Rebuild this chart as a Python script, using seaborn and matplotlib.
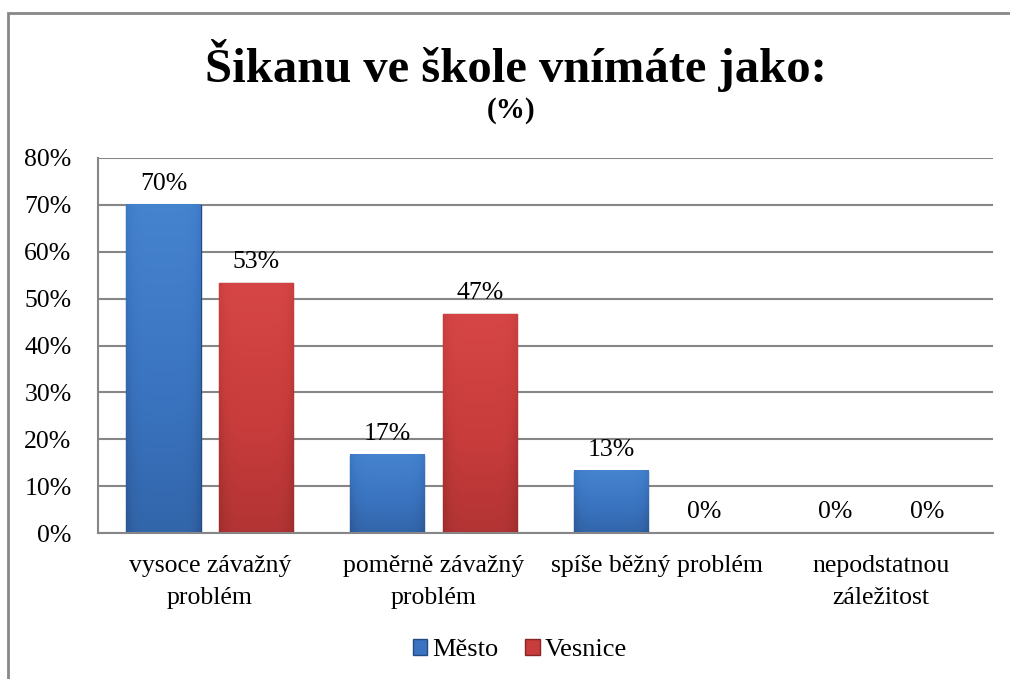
import numpy as np
import pandas as pd
import matplotlib
matplotlib.use("Agg")
import matplotlib.pyplot as plt
import seaborn as sns
from matplotlib.patches import Rectangle, Patch
from matplotlib.colors import LinearSegmentedColormap

categories = ["vysoce závažný\nproblém", "poměrně závažný\nproblém",
              "spíše běžný problém", "nepodstatnou\nzáležitost"]
series = ["Město", "Vesnice"]
mesto = [70.0, 16.7, 13.3, 0.0]
vesnice = [53.3, 46.7, 0.0, 0.0]
yticks = [0, 10, 20, 30, 40, 50, 60, 70, 80]

df = pd.DataFrame({
    "cat": categories * 2,
    "series": [series[0]] * 4 + [series[1]] * 4,
    "val": mesto + vesnice,
})

sns.set_theme(style="white")
plt.rcParams["font.family"] = ["Liberation Serif", "DejaVu Serif"]
plt.rcParams["text.color"] = "black"
plt.rcParams["xtick.color"] = "black"
plt.rcParams["ytick.color"] = "black"
plt.rcParams["axes.labelcolor"] = "black"

blue = "#3a74c0"
red = "#c83c3c"

fig = plt.figure(figsize=(10.10, 6.79), dpi=100)
ax = fig.add_axes([98 / 1010, 1 - 533 / 679, (993 - 98) / 1010, (533 - 158) / 679])

sns.barplot(data=df, x="cat", y="val", hue="series", order=categories,
            hue_order=series, palette=[blue, red], width=0.83, gap=0.2,
            ax=ax, legend=True, edgecolor="none", linewidth=0)

# gradient shading for bars
cm_blue = LinearSegmentedColormap.from_list("b", ["#2b5896", "#3a74c0", "#4b8ad6"])
cm_red = LinearSegmentedColormap.from_list("r", ["#9e2c2c", "#c83c3c", "#dc4a4a"])
for cont, cmap, edge in zip(ax.containers, [cm_blue, cm_red], ["#244a80", "#862626"]):
    for p in cont.patches:
        h = p.get_height()
        if h <= 0:
            continue
        x0 = p.get_x(); w = p.get_width()
        gy = np.linspace(0, 1, 64)[:, None]
        gx = np.linspace(-1, 1, 64)[None, :]
        img = 0.25 + 0.6 * gy - 0.25 * (np.abs(gx) ** 6)
        ax.imshow(img, cmap=cmap, vmin=0, vmax=1, origin="lower",
                  extent=[x0, x0 + w, 0, h], aspect="auto", zorder=p.get_zorder() + 0.1,
                  clip_path=p, clip_on=True, interpolation="bilinear")
        p.set_edgecolor(edge)
        p.set_linewidth(1.0)

for cont in ax.containers:
    ax.bar_label(cont, labels=[f"{v:.0f}%" for v in cont.datavalues],
                 padding=7, fontsize=18.5, color="black")

ax.set_xlim(-0.5, 3.5)
ax.set_ylim(0, 80)
ax.set_yticks(yticks)
ax.set_yticklabels([f"{t}%" for t in yticks], fontsize=18.5)
ax.tick_params(axis="x", labelsize=18.5, pad=16, length=0)
ax.tick_params(axis="y", labelsize=18.5, pad=19, length=0)
for lbl in ax.get_xticklabels():
    lbl.set_linespacing(1.55)
ax.set_xlabel("")
ax.set_ylabel("")
ax.yaxis.grid(True, color="#868686", linewidth=1.5)
ax.set_axisbelow(True)
for s in ["top", "right"]:
    ax.spines[s].set_visible(False)
for s in ["left", "bottom"]:
    ax.spines[s].set_color("#868686")
    ax.spines[s].set_linewidth(1.5)

ax.get_legend().remove()
handles = [Patch(facecolor=blue, edgecolor="#244a80"), Patch(facecolor=red, edgecolor="#862626")]
fig.legend(handles, series, loc="center", bbox_to_anchor=(0.515, 1 - 650 / 679),
           ncol=2, frameon=False, fontsize=19, handlelength=0.55, handleheight=0.55,
           handletextpad=0.2, columnspacing=1.0)

fig.text(0.511, 1 - 65 / 679, "Šikanu ve škole vnímáte jako:", ha="center", va="center",
         fontsize=35, fontweight="bold", color="black")
fig.text(0.506, 1 - 110 / 679, "(%)", ha="center", va="center",
         fontsize=21, fontweight="bold", color="black")

fig.patches.append(Rectangle((8 / 1010, -0.1), 1.2, 1 - 13 / 679 + 0.1,
                             transform=fig.transFigure, fill=False,
                             edgecolor="#888888", linewidth=2))

fig.savefig("out.png", dpi=100)
